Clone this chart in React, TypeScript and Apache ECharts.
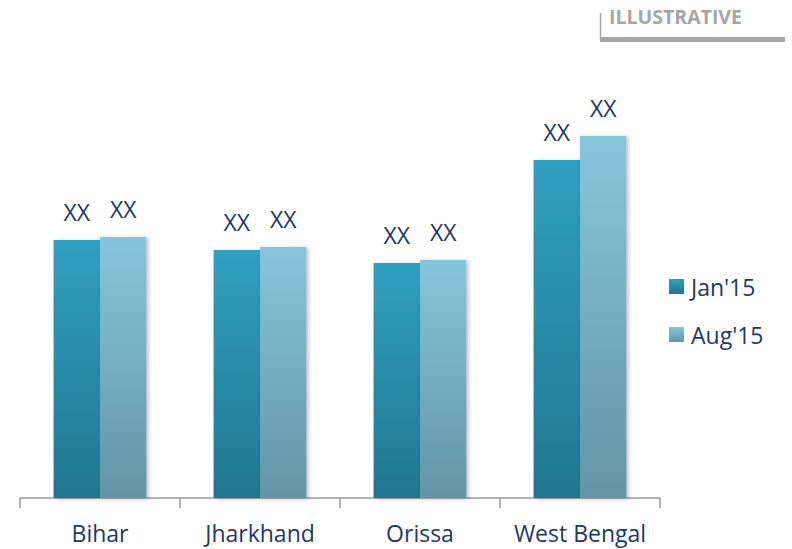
import React, { useEffect, useRef } from "react";
import * as echarts from "echarts";

const categories = ["Bihar", "Jharkhand", "Orissa", "West Bengal"];
const jan15 = [258, 248, 235, 338];
const aug15 = [261, 251, 238, 362];
const seriesNames = ["Jan'15", "Aug'15"];
const barLabel = "XX";

export default function App() {
  const ref = useRef<HTMLDivElement>(null);
  useEffect(() => {
    if (!ref.current) return;
    const chart = echarts.init(ref.current, null, { renderer: "svg" });
    const font = "'Open Sans', 'Noto Sans', sans-serif";
    const navy = "#1F3864";
    const janColor = new echarts.graphic.LinearGradient(0, 0, 0, 1, [
      { offset: 0, color: "#2FA0C0" },
      { offset: 1, color: "#22768D" },
    ]);
    const augColor = new echarts.graphic.LinearGradient(0, 0, 0, 1, [
      { offset: 0, color: "#86C6DD" },
      { offset: 1, color: "#6494A6" },
    ]);
    const mkSeries = (name: string, data: number[], color: any) => ({
      name,
      type: "bar",
      data,
      barGap: "0%",
      barCategoryGap: "42%",
      itemStyle: {
        color,
        shadowColor: "rgba(0,0,0,0.25)",
        shadowBlur: 4,
        shadowOffsetX: 2,
        shadowOffsetY: 1,
      },
      label: {
        show: true,
        position: "top",
        distance: 17,
        formatter: () => barLabel,
        color: navy,
        fontSize: 23,
        fontFamily: font,
      },
    });
    chart.setOption({
      animation: false,
      grid: { left: 20, right: 132, top: 98, bottom: 51, containLabel: false },
      xAxis: {
        type: "category",
        data: categories,
        axisLine: { show: true, lineStyle: { color: "#9A9A9A", width: 1.5 } },
        axisTick: { show: true, length: 10, inside: false, lineStyle: { color: "#9A9A9A", width: 1.5 } },
        axisLabel: { color: navy, fontSize: 23, fontFamily: font, margin: 23, interval: 0 },
      },
      yAxis: {
        type: "value",
        min: 0,
        max: 400,
        show: false,
        splitLine: { show: false },
      },
      legend: {
        orient: "vertical",
        left: 664,
        top: 270,
        itemWidth: 15,
        itemHeight: 15,
        itemGap: 25,
        icon: "rect",
        textStyle: { color: navy, fontSize: 23, fontFamily: font, padding: [0, 0, 0, 2] },
        data: seriesNames,
      },
      graphic: [
        {
          type: "text",
          left: 609,
          top: 6,
          style: {
            text: "ILLUSTRATIVE",
            fill: "#A6A6A6",
            fontSize: 19.5,
            fontWeight: "bold",
            fontFamily: font,
          },
        },
        {
          type: "line",
          shape: { x1: 600.5, y1: 13, x2: 600.5, y2: 40 },
          style: { stroke: "#A6A6A6", lineWidth: 1.5 },
        },
        {
          type: "rect",
          shape: { x: 600, y: 37, width: 185, height: 5 },
          style: { fill: "#A6A6A6" },
        },
      ],
      series: [mkSeries(seriesNames[0], jan15, janColor), mkSeries(seriesNames[1], aug15, augColor)],
    });
    return () => chart.dispose();
  }, []);
  return (
    <div
      ref={ref}
      style={{ width: 792, height: 549, position: "absolute", left: 0, top: 0 }}
    />
  );
}
